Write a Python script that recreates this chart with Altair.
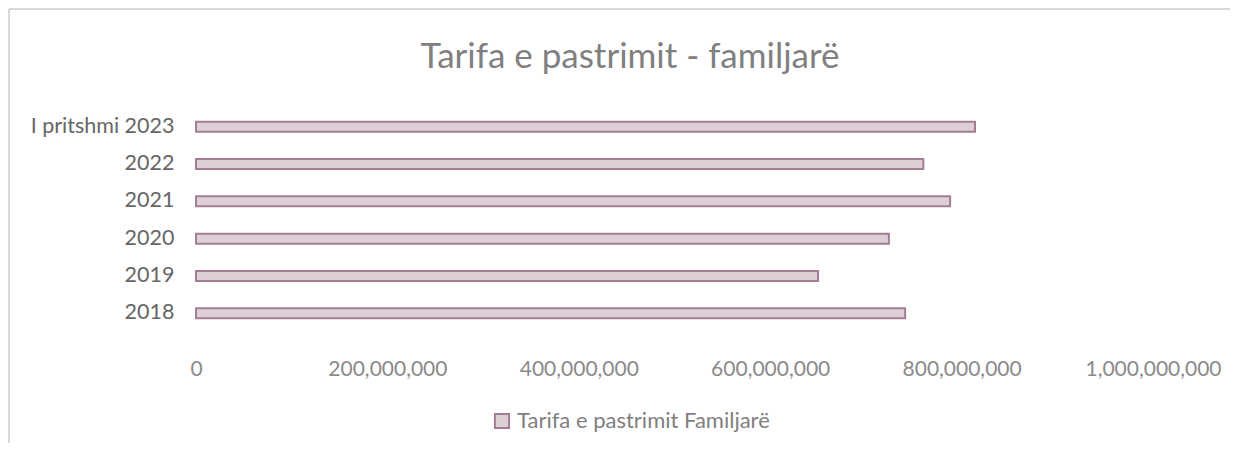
import altair as alt
import pandas as pd

categories = ["I pritshmi 2023", "2022", "2021", "2020", "2019", "2018"]
values = [814000000, 760000000, 788000000, 724000000, 650000000, 741000000]
series_name = "Tarifa e pastrimit Familjarë"
title_text = "Tarifa e pastrimit - familjarë"
tick_values = [0, 200000000, 400000000, 600000000, 800000000, 1000000000]

FILL = "#DCCFD6"
STROKE = "#A57D93"
FONT = "Lato"

df = pd.DataFrame({"cat": categories, "val": values, "series": [series_name] * len(categories)})
one = pd.DataFrame({"k": [0]})

W, H = 957, 224

bars = alt.Chart(df).mark_bar(size=10, stroke=STROKE, strokeWidth=2).encode(
    y=alt.Y("cat:N", sort=categories, title=None,
            scale=alt.Scale(paddingInner=0.68, paddingOuter=0.34),
            axis=alt.Axis(domain=False, ticks=False, labelFontSize=21.5, labelFont=FONT,
                          labelColor="#666666", labelPadding=22)),
    x=alt.X("val:Q", title=None,
            scale=alt.Scale(domain=[0, 1000000000], nice=False),
            axis=alt.Axis(values=tick_values, format=",.0f", domain=False, ticks=False, grid=False,
                          labelFontSize=21, labelFont=FONT, labelColor="#8a8a8a",
                          labelPadding=26, labelFlush=False, labelOverlap=False)),
    fill=alt.Fill("series:N", title=None,
                  scale=alt.Scale(range=[FILL]),
                  legend=alt.Legend(orient="none", legendX=295, legendY=302, symbolType="square",
                                    symbolSize=200, symbolStrokeColor=STROKE, symbolStrokeWidth=2,
                                    labelFontSize=22, labelFont=FONT, labelColor="#808080",
                                    labelOffset=4, labelLimit=500)),
)

title = alt.Chart(one).mark_text(text=title_text, fontSize=35, font=FONT, color="#808080",
                                 align="center", baseline="alphabetic").encode(
    x=alt.value(434), y=alt.value(-40))

top_line = alt.Chart(one).mark_rule(color="#d9d9d9", strokeWidth=2, clip=False).encode(
    x=alt.value(-187), x2=alt.value(1040), y=alt.value(-99))
left_line = alt.Chart(one).mark_rule(color="#d9d9d9", strokeWidth=2, clip=False).encode(
    x=alt.value(-187), y=alt.value(-99), y2=alt.value(400))

chart = alt.layer(top_line, left_line, title, bars).properties(
    width=W, height=H,
    autosize=alt.AutoSizeParams(type="none"),
    padding={"left": 188, "top": 100, "right": 77, "bottom": 111},
).configure(background="white").configure_view(stroke=None, strokeWidth=0)

chart.save("out.html", embed_options={"renderer": "svg", "actions": False})
